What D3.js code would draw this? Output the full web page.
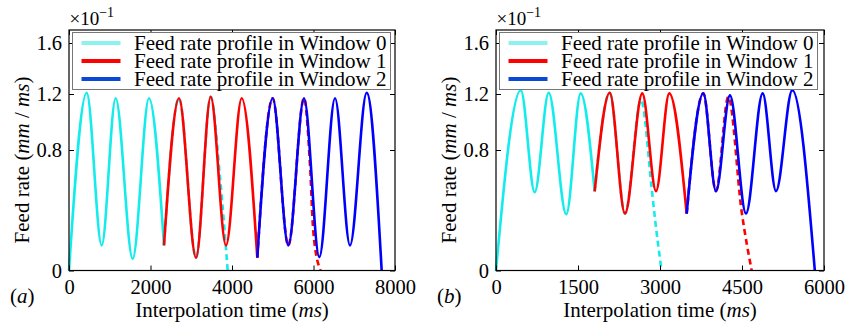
<!DOCTYPE html>
<html>
<head>
<meta charset="utf-8">
<script src="https://cdn.jsdelivr.net/npm/d3@7"></script>
<style>
  body { margin: 0; background: #fff; }
  svg { display: block; font-family: 'Liberation Serif', 'Times New Roman', serif; }
</style>
</head>
<body>
<div id="chart"></div>
<script>
// feed rate in units of 1e-1 mm/ms, time in ms
const yTicks = [0, 0.8, 1.2, 1.6];
const xTicksA = [0, 2000, 4000, 6000, 8000];
const xTicksB = [0, 1500, 3000, 4500, 6000];
const legendLabels = [
  'Feed rate profile in Window 0',
  'Feed rate profile in Window 1',
  'Feed rate profile in Window 2',
];
const lineColors = ['#14ECEC', '#FF0000', '#0000FF'];
const legendColors = ['#8CF2EE', '#FF0000', '#0A48D8'];

// panel (a): executed parts (solid) and planned look-ahead parts (dashed)
const aWin0 = [[0, 0], [434, 1.21], [802, 0.167], [1145, 1.17], [1563, 0.078], [1963, 1.17], [2331, 0.167]];
const aWin0Plan = [[2331, 0.167], [2699, 1.17], [3117, 0.085], [3477, 1.18], [3706, 0.62], [3894, 0]];
const aWin1 = [[2331, 0.167], [2699, 1.17], [3117, 0.085], [3477, 1.18], [3853, 0.167], [4238, 1.17], [4621, 0.085]];
const aWin1Plan = [[4621, 0.085], [4998, 1.17], [5382, 0.167], [5767, 1.17], [5914, 0.7], [5995, 0.26], [6170, 0]];
const aWin2 = [[4621, 0.085], [4998, 1.17], [5382, 0.167], [5767, 1.17], [6143, 0.089], [6528, 1.17], [6896, 0.167], [7305, 1.21], [7673, 0]];

// panel (b)
const bWin0 = [[0, 0], [454, 1.23], [708, 0.52], [964, 1.21], [1286, 0.373], [1549, 1.205], [1805, 0.525]];
const bWin0Plan = [[1805, 0.525], [2080, 1.21], [2359, 0.378], [2652, 1.157], [2848, 0.545], [2908, 0.345], [3028, 0]];
const bWin1 = [[1805, 0.525], [2080, 1.21], [2359, 0.378], [2676, 1.205], [2927, 0.527], [3170, 1.205], [3488, 0.378]];
const bWin1Plan = [[3488, 0.378], [3792, 1.205], [4024, 0.527], [4250, 1.18], [4494, 0.39], [4677, 0]];
const bWin2 = [[3488, 0.378], [3792, 1.205], [4024, 0.527], [4280, 1.19], [4573, 0.378], [4878, 1.205], [5122, 0.527], [5420, 1.23], [5832, 0]];

const panels = [
  { tag: 'a', left: 69, right: 395, xMax: 8000, xTicks: xTicksA, solid: [aWin0, aWin1, aWin2], planned: [aWin0Plan, aWin1Plan, null] },
  { tag: 'b', left: 496, right: 824, xMax: 6000, xTicks: xTicksB, solid: [bWin0, bWin1, bWin2], planned: [bWin0Plan, bWin1Plan, null] },
];

const width = 858;
const height = 328;
const plotTop = 30;
const plotBottom = 270.5;
const tickLen = 5;

const svg = d3.select('#chart')
  .append('svg')
  .attr('width', width)
  .attr('height', height);

svg.append('rect').attr('width', width).attr('height', height).attr('fill', '#fff');

panels.forEach((p) => drawPanel(p));

function drawPanel(p) {
  const g = svg.append('g');

  const x = d3.scaleLinear().domain([0, p.xMax]).range([p.left, p.right]);
  const y = d3.scaleLinear().domain(yTicks).range([plotBottom, 150, 94, 43]);

  const line = d3.line()
    .x((d) => x(d[0]))
    .y((d) => y(d[1]))
    .curve(d3.curveMonotoneX);

  // curves: each window's planned (dashed) part under its executed (solid) part
  p.solid.forEach((pts, i) => {
    if (p.planned[i]) {
      g.append('path')
        .datum(p.planned[i])
        .attr('fill', 'none')
        .attr('stroke', lineColors[i])
        .attr('stroke-width', 2.6)
        .attr('stroke-dasharray', '6,4')
        .attr('d', line);
    }
    g.append('path')
      .datum(pts)
      .attr('fill', 'none')
      .attr('stroke', lineColors[i])
      .attr('stroke-width', 2.6)
      .attr('stroke-linejoin', 'round')
      .attr('d', line);
  });

  // axes, Matlab style: boxed, ticks pointing inwards
  const yFmt = (d) => (d === 0 ? '0' : d.toFixed(1));
  const xAxis = g.append('g')
    .attr('transform', `translate(0,${plotBottom})`)
    .call(d3.axisBottom(x).tickValues(p.xTicks).tickSizeInner(-tickLen).tickSizeOuter(0).tickPadding(9).tickFormat(d3.format('d')));
  const yAxis = g.append('g')
    .attr('transform', `translate(${p.left},0)`)
    .call(d3.axisLeft(y).tickValues(yTicks).tickSizeInner(-tickLen).tickSizeOuter(0).tickPadding(7).tickFormat(yFmt));
  const xTop = g.append('g')
    .attr('transform', `translate(0,${plotTop})`)
    .call(d3.axisTop(x).tickValues(p.xTicks).tickSizeInner(-tickLen).tickSizeOuter(0).tickFormat(''));
  const yRight = g.append('g')
    .attr('transform', `translate(${p.right},0)`)
    .call(d3.axisRight(y).tickValues(yTicks).tickSizeInner(-tickLen).tickSizeOuter(0).tickFormat(''));

  [xAxis, yAxis, xTop, yRight].forEach((a) => {
    a.select('.domain').remove();
    a.selectAll('line').attr('stroke', '#000').attr('stroke-width', 1);
    a.selectAll('text')
      .attr('fill', '#000')
      .style('font-size', '20.5px')
      .style('font-family', "'Liberation Serif', 'Times New Roman', serif");
  });

  g.append('rect')
    .attr('x', p.left)
    .attr('y', plotTop)
    .attr('width', p.right - p.left)
    .attr('height', plotBottom - plotTop)
    .attr('fill', 'none')
    .attr('stroke', '#000')
    .attr('stroke-width', 1.2);

  // exponent above the y axis
  const expo = g.append('text')
    .attr('x', p.left + 0.5)
    .attr('y', 25)
    .style('font-size', '19px');
  expo.append('tspan').text('\u00d710');
  expo.append('tspan').attr('dy', -8).style('font-size', '14px').text('\u22121');

  // y label
  const yl = g.append('text')
    .attr('text-anchor', 'middle')
    .attr('transform', `translate(${p.left - 40},160) rotate(-90)`)
    .style('font-size', '21px');
  yl.append('tspan').text('Feed rate (');
  yl.append('tspan').style('font-style', 'italic').text('mm');
  yl.append('tspan').text(' / ');
  yl.append('tspan').style('font-style', 'italic').text('ms');
  yl.append('tspan').text(')');

  // x label
  const xl = g.append('text')
    .attr('text-anchor', 'middle')
    .attr('x', (p.left + p.right) / 2)
    .attr('y', 317)
    .style('font-size', '21px');
  xl.append('tspan').text('Interpolation time (');
  xl.append('tspan').style('font-style', 'italic').text('ms');
  xl.append('tspan').text(')');

  // panel tag
  const tag = g.append('text')
    .attr('x', p.left - 59)
    .attr('y', 303)
    .style('font-size', '21px');
  tag.append('tspan').text('(');
  tag.append('tspan').style('font-style', 'italic').text(p.tag);
  tag.append('tspan').text(')');

  // legend
  const lg = g.append('g').attr('transform', `translate(${p.left + 3.5},32.5)`);
  lg.append('rect')
    .attr('width', 318)
    .attr('height', 57)
    .attr('fill', '#fff')
    .attr('stroke', '#777')
    .attr('stroke-width', 1);
  legendLabels.forEach((label, i) => {
    const row = lg.append('g').attr('transform', `translate(0,${10.5 + 18 * i})`);
    row.append('line')
      .attr('x1', 9)
      .attr('x2', 48)
      .attr('stroke', legendColors[i])
      .attr('stroke-width', 4);
    row.append('text')
      .attr('x', 61.5)
      .attr('dy', '0.35em')
      .style('font-size', '21px')
      .text(label);
  });
}
</script>
</body>
</html>
